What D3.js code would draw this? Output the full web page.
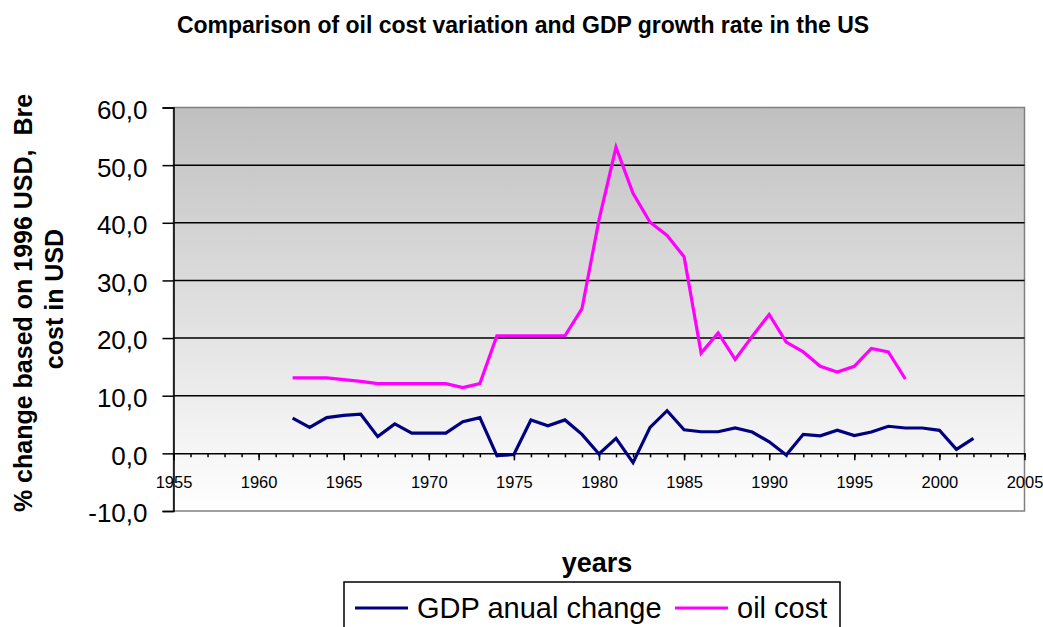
<!DOCTYPE html>
<html>
<head>
<meta charset="utf-8">
<script src="https://cdn.jsdelivr.net/npm/d3@7"></script>
<style>
  html, body { margin: 0; padding: 0; background: #fff; }
  svg { display: block; font-family: "Liberation Sans", Arial, sans-serif; }
</style>
</head>
<body>
<svg id="chart" width="1043" height="627"></svg>
<script>
// Years and series values
const gdpYears = d3.range(1962, 2003);
const gdpChange = [6.1, 4.5, 6.2, 6.6, 6.8, 2.9, 5.1, 3.5, 3.5, 3.5,
                   5.5, 6.2, -0.4, -0.2, 5.8, 4.8, 5.8, 3.3, -0.1, 2.6,
                   -1.6, 4.5, 7.4, 4.1, 3.75, 3.75, 4.4, 3.7, 2.0, -0.3,
                   3.3, 3.05, 4.0, 3.1, 3.7, 4.7, 4.4, 4.4, 4.0, 0.7, 2.6];
const oilYears = d3.range(1962, 1999);
const oilCost = [13.1, 13.1, 13.1, 12.8, 12.5, 12.1, 12.1, 12.1, 12.1, 12.1,
                 11.4, 12.1, 20.4, 20.4, 20.4, 20.4, 20.4, 25.1, 40.5, 53.1,
                 45.1, 40.1, 37.8, 34.1, 17.4, 20.9, 16.3, 20.3, 24.1, 19.3,
                 17.6, 15.1, 14.1, 15.1, 18.2, 17.6, 12.9];
const xTicks = d3.range(1955, 2006, 5);
const xMinorTicks = d3.range(1955, 2006, 1);
const yTicks = d3.range(-10, 61, 10);
const seriesNames = ["GDP anual change", "oil cost"];
const seriesColors = ["#000080", "#ff00ff"];

const svg = d3.select("#chart");
const plotLeft = 173.5, plotRight = 1024.5, plotTop = 107.5, plotBottom = 511;

const x = d3.scaleLinear().domain([1955, 2005]).range([plotLeft, plotRight]);
const y = d3.scaleLinear().domain([-10, 60]).range([plotBottom, plotTop]);
// Decimal comma and a plain hyphen for negatives
const fmt = v => d3.format(".1f")(v).replace(".", ",").replace("\u2212", "-");

// Plot background gradient
const defs = svg.append("defs");
const grad = defs.append("linearGradient").attr("id", "plotbg")
  .attr("x1", 0).attr("y1", 0).attr("x2", 0).attr("y2", 1);
grad.append("stop").attr("offset", "0%").attr("stop-color", "#c0c0c0");
grad.append("stop").attr("offset", "100%").attr("stop-color", "#ffffff");

svg.append("rect")
  .attr("x", plotLeft).attr("y", plotTop)
  .attr("width", plotRight - plotLeft).attr("height", plotBottom - plotTop)
  .attr("fill", "url(#plotbg)")
  .attr("stroke", "#808080").attr("stroke-width", 1.5);

// Horizontal gridlines
svg.append("g")
  .selectAll("line")
  .data(yTicks.filter(v => v > 0 && v < 60))
  .join("line")
  .attr("x1", plotLeft).attr("x2", plotRight)
  .attr("y1", d => y(d)).attr("y2", d => y(d))
  .attr("stroke", "#000").attr("stroke-width", 1.5);

// Y axis
const yAxis = svg.append("g").attr("transform", `translate(${plotLeft},0)`)
  .call(d3.axisLeft(y).tickValues(yTicks).tickSize(11).tickFormat(fmt));
yAxis.select(".domain").attr("stroke", "#000").attr("stroke-width", 1.5);
yAxis.selectAll(".tick line").attr("stroke", "#000").attr("stroke-width", 1.5);
yAxis.selectAll(".tick text")
  .attr("font-size", 26).attr("fill", "#000")
  .attr("x", -26).attr("dy", "0.42em")
  .attr("font-family", "'Liberation Sans', Arial, sans-serif");

// X axis at zero, minor then major ticks
const xAxisG = svg.append("g").attr("transform", `translate(0,${y(0)})`);
xAxisG.append("g")
  .call(d3.axisBottom(x).tickValues(xMinorTicks).tickSize(4).tickFormat(""))
  .call(g => g.select(".domain").remove())
  .selectAll(".tick line").attr("stroke", "#000").attr("stroke-width", 1.5);
const xMajor = xAxisG.append("g")
  .call(d3.axisBottom(x).tickValues(xTicks).tickSize(7).tickSizeOuter(0).tickFormat(d3.format("d")));
xMajor.select(".domain").attr("stroke", "#000").attr("stroke-width", 1.5);
xMajor.selectAll(".tick line").attr("stroke", "#000").attr("stroke-width", 1.5);
xMajor.selectAll(".tick text")
  .attr("font-size", 16.5).attr("fill", "#000")
  .attr("y", 35).attr("dy", 0)
  .attr("font-family", "'Liberation Sans', Arial, sans-serif");

// Series lines
const line = d3.line().x(d => x(d[0])).y(d => y(d[1]));
const gdpData = d3.zip(gdpYears, gdpChange);
const oilData = d3.zip(oilYears, oilCost);

svg.append("path").datum(oilData)
  .attr("d", line).attr("fill", "none")
  .attr("stroke", seriesColors[1]).attr("stroke-width", 3.2)
  .attr("stroke-linejoin", "miter");
svg.append("path").datum(gdpData)
  .attr("d", line).attr("fill", "none")
  .attr("stroke", seriesColors[0]).attr("stroke-width", 3.2)
  .attr("stroke-linejoin", "miter");

// Title
svg.append("text")
  .attr("x", 523).attr("y", 33)
  .attr("text-anchor", "middle")
  .attr("font-size", 23).attr("font-weight", "bold")
  .text("Comparison of oil cost variation and GDP growth rate in the US");

// Y axis title (two lines)
const yTitle = svg.append("text")
  .attr("transform", "translate(0,303) rotate(-90)")
  .attr("text-anchor", "middle")
  .attr("font-size", 25).attr("font-weight", "bold")
  .style("white-space", "pre");
yTitle.append("tspan").attr("x", 0).attr("y", 31.5).text("% change based on 1996 USD,  Bre");
yTitle.append("tspan").attr("x", 4).attr("y", 63).text("cost in USD");

// X axis title
svg.append("text")
  .attr("x", 597).attr("y", 572)
  .attr("text-anchor", "middle")
  .attr("font-size", 27).attr("font-weight", "bold")
  .text("years");

// Legend
const legend = svg.append("g");
legend.append("rect")
  .attr("x", 344).attr("y", 582)
  .attr("width", 496).attr("height", 60)
  .attr("fill", "#fff").attr("stroke", "#000").attr("stroke-width", 1.5);
const legendItems = [
  { name: seriesNames[0], color: seriesColors[0], x0: 355 },
  { name: seriesNames[1], color: seriesColors[1], x0: 675 }
];
const li = legend.selectAll("g.item").data(legendItems).join("g").attr("class", "item");
li.append("line")
  .attr("x1", d => d.x0).attr("x2", d => d.x0 + 53)
  .attr("y1", 608).attr("y2", 608)
  .attr("stroke", d => d.color).attr("stroke-width", 3.2);
li.append("text")
  .attr("x", d => d.x0 + 62).attr("y", 618)
  .attr("font-size", 29)
  .text(d => d.name);
</script>
</body>
</html>
